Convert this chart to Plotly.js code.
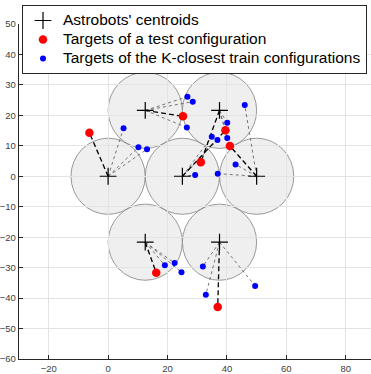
<!DOCTYPE html>
<html>
<head>
<meta charset="utf-8">
<script src="https://cdn.plot.ly/plotly-3.0.1.min.js"></script>
<style>
html,body{margin:0;padding:0;background:#fff;}
#chart{width:371px;height:374px;}
</style>
</head>
<body>
<div id="chart"></div>
<script>
// Astrobots' centroids
var centroidX = [0, 25, 50, 12.5, 37.5, 12.5, 37.5];
var centroidY = [0, 0, 0, 21.65, 21.65, -21.65, -21.65];
var robotRadius = 12.5;

// Targets of a test configuration (one per robot, same order)
var testX = [-6.3, 39.5, 41.0, 25.2, 31.2, 16.2, 36.9];
var testY = [14.3, 15.1, 9.95, 19.7, 4.6, -31.7, -42.9];

// Targets of the K-closest train configurations (robot index for each)
var trainRobot = [0, 0, 0, 1, 1, 1, 2, 2, 2, 3, 3, 3, 4, 4, 4, 5, 5, 5, 6, 6, 6];
var trainX = [5.2, 10.2, 13.1, 29.3, 36.8, 34.9, 46.0, 42.9, 36.9, 26.7, 28.5, 26.5, 40.1, 40.1, 39.6, 19.1, 22.4, 24.7, 31.9, 32.9, 49.5];
var trainY = [15.8, 9.5, 8.9, 0.4, 11.9, 13.0, 23.4, 3.9, 0.85, 26.1, 24.5, 16.0, 17.6, 12.6, 15.0, -29.2, -28.5, -31.5, -29.6, -38.9, -36.0];

var legendNames = ["Astrobots' centroids", "Targets of a test configuration", "Targets of the K-closest train configurations"];

function big(t) { return '<span style="font-size:15.5px">' + t + '</span>'; }

// circles for the robots' workspace
var shapes = centroidX.map(function (cx, i) {
  return {
    type: 'circle', xref: 'x', yref: 'y', layer: 'below',
    x0: cx - robotRadius, x1: cx + robotRadius,
    y0: centroidY[i] - robotRadius, y1: centroidY[i] + robotRadius,
    fillcolor: '#efefef', line: {color: '#808080', width: 0.8}
  };
});

// dotted lines centroid -> train targets
var dotX = [], dotY = [];
trainX.forEach(function (tx, j) {
  var r = trainRobot[j];
  dotX.push(centroidX[r], tx, null);
  dotY.push(centroidY[r], trainY[j], null);
});
// dashed lines centroid -> test targets
var dashX = [], dashY = [];
testX.forEach(function (tx, i) {
  dashX.push(centroidX[i], tx, null);
  dashY.push(centroidY[i], testY[i], null);
});

var traces = [
  {x: dotX, y: dotY, mode: 'lines', showlegend: false, hoverinfo: 'skip',
   line: {color: '#666666', width: 0.9, dash: 'dot'}},
  {x: dashX, y: dashY, mode: 'lines', showlegend: false, hoverinfo: 'skip',
   line: {color: '#000000', width: 1.3, dash: '5px,3px'}},
  {x: centroidX, y: centroidY, mode: 'markers', name: big(legendNames[0]), legendrank: 1,
   marker: {symbol: 'cross-thin-open', size: 12, color: '#000', line: {color: '#000', width: 1.2}}},
  {x: trainX, y: trainY, mode: 'markers', name: big(legendNames[2]), legendrank: 3,
   marker: {symbol: 'circle', size: 6, color: '#0000ff'}},
  {x: testX, y: testY, mode: 'markers', name: big(legendNames[1]), legendrank: 2,
   marker: {symbol: 'circle', size: 8.5, color: '#ff0000'}}
];

var axisCommon = {
  showgrid: true, gridcolor: '#e3e3e3', gridwidth: 1,
  zeroline: false, showline: true, linecolor: '#262626', linewidth: 1.3,
  ticks: 'inside', ticklen: 4, tickcolor: '#262626', tickwidth: 1,
  tickfont: {family: 'Liberation Sans, Arial, sans-serif', size: 9.5, color: '#404040'},
  mirror: false
};

var layout = {
  width: 371, height: 374,
  margin: {l: 19, r: 0, t: 24, b: 15, pad: 0, autoexpand: false},
  paper_bgcolor: '#fff', plot_bgcolor: '#fff',
  shapes: shapes,
  xaxis: Object.assign({}, axisCommon, {range: [-30, 88.5], tickvals: [-20, 0, 20, 40, 60, 80], automargin: false}),
  yaxis: Object.assign({}, axisCommon, {range: [-60, 50], dtick: 10, tick0: 0, automargin: false}),
  showlegend: true,
  legend: {
    x: 22 / 371, xref: 'container', xanchor: 'left',
    y: 1 - 5 / 374, yanchor: 'top', yref: 'container',
    bgcolor: '#fff', bordercolor: '#262626', borderwidth: 1,
    font: {family: 'Liberation Sans, Arial, sans-serif', size: 11, color: '#000'},
    itemwidth: 30, tracegroupgap: 0
  }
};

Plotly.newPlot('chart', traces, layout, {displayModeBar: false, staticPlot: true});
</script>
</body>
</html>
